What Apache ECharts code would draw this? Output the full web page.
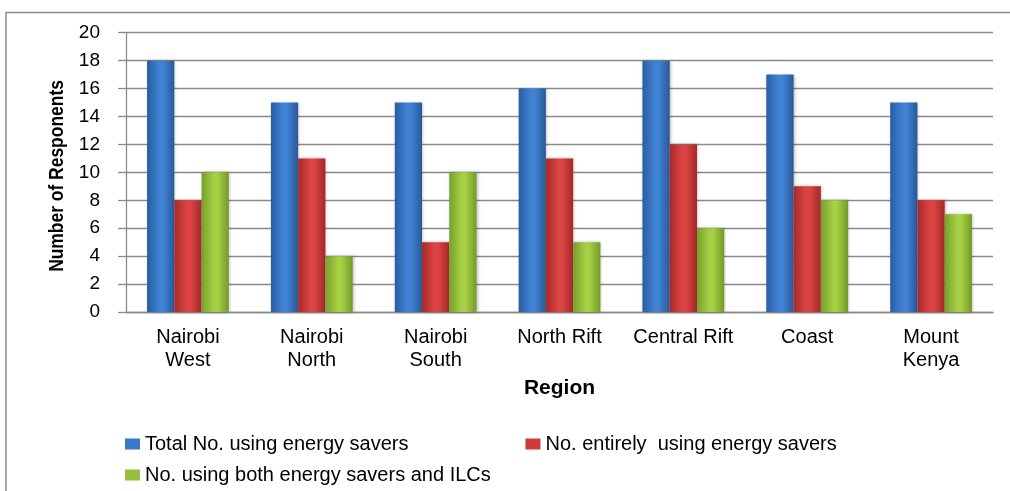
<!DOCTYPE html>
<html><head><meta charset="utf-8">
<script src="https://cdn.jsdelivr.net/npm/echarts@6/dist/echarts.min.js"></script>
<style>html,body{margin:0;padding:0;background:#fff}#c{width:1010px;height:491px}</style>
</head><body><div id="c"></div>
<script>
const categories = ['Nairobi\nWest','Nairobi\nNorth','Nairobi\nSouth','North Rift','Central Rift','Coast','Mount\nKenya'];
const totalUsing = [18,15,15,16,18,17,15];
const entirelyUsing = [8,11,5,11,12,9,8];
const bothUsing = [10,4,10,5,6,8,7];
const yTicks = [0,2,4,6,8,10,12,14,16,18,20];
const seriesNames = ['Total No. using energy savers','No. entirely  using energy savers','No. using both energy savers and ILCs'];
const xTitle = 'Region';
const yTitle = 'Number of Responents';

function grad(edge, mid, edge2){
  return new echarts.graphic.LinearGradient(0,0,1,0,[
    {offset:0,color:edge},{offset:0.45,color:mid},{offset:0.6,color:mid},{offset:1,color:edge2}]);
}
const colors = [
  grad('#2a5ca3','#3f82d4','#2b5896'),
  grad('#a52a2a','#dc4443','#a32828'),
  grad('#76a02b','#a6cf44','#729a28')
];
const legendColors = ['#3a78c8','#cf3b3b','#96c03b'];
const font = '"Liberation Sans", Arial, sans-serif';
const chart = echarts.init(document.getElementById('c'));
const mk = (name, data, i) => ({
  name, type:'bar', data, barGap:'0%', barCategoryGap:'34%',
  itemStyle:{color:colors[i], shadowColor:'rgba(0,0,0,0.25)', shadowBlur:3, shadowOffsetX:1},
  emphasis:{disabled:true}
});
chart.setOption({
  animation:false,
  graphic:[
    {type:'rect', shape:{x:6, y:12.5, width:1020, height:500},
     style:{fill:'none', stroke:'#8c8c8c', lineWidth:1.5}, silent:true},
    {type:'text', x:57, y:176, rotation:Math.PI/2, scaleX:0.83, silent:true,
     style:{text:yTitle, fontFamily:font, fontSize:21, fontWeight:'bold', fill:'#000', align:'center', verticalAlign:'middle'}}
  ],
  grid:{left:126, right:17, top:32.7, bottom:179},
  legend:[
    {data:[{name:seriesNames[0],itemStyle:{color:legendColors[0]}},{name:seriesNames[1],itemStyle:{color:legendColors[1]}}],
     left:120, top:429, itemWidth:15, itemHeight:11, itemGap:117, icon:'rect',
     textStyle:{fontFamily:font, fontSize:20, color:'#000'}},
    {data:[{name:seriesNames[2],itemStyle:{color:legendColors[2]}}],
     left:120, top:460, itemWidth:15, itemHeight:11, icon:'rect',
     textStyle:{fontFamily:font, fontSize:20, color:'#000'}}
  ],
  xAxis:{type:'category', data:categories,
    axisLine:{lineStyle:{color:'#8a8a8a', width:1.3}}, axisTick:{show:false},
    axisLabel:{fontFamily:font, fontSize:20, color:'#000', lineHeight:23, margin:14, interval:0},
    name:xTitle, nameLocation:'middle', nameGap:66,
    nameTextStyle:{fontFamily:font, fontSize:21, fontWeight:'bold', color:'#000'}},
  yAxis:{type:'value', min:yTicks[0], max:yTicks[yTicks.length-1], interval:yTicks[1]-yTicks[0],
    axisLine:{show:true, lineStyle:{color:'#8a8a8a', width:1.3}},
    axisTick:{show:true, length:8, lineStyle:{color:'#8a8a8a', width:1.3}},
    splitLine:{lineStyle:{color:'#8a8a8a', width:1.3}},
    axisLabel:{fontFamily:font, fontSize:19, color:'#000', margin:26}},
  series:[mk(seriesNames[0], totalUsing, 0), mk(seriesNames[1], entirelyUsing, 1), mk(seriesNames[2], bothUsing, 2)]
});
</script></body></html>
